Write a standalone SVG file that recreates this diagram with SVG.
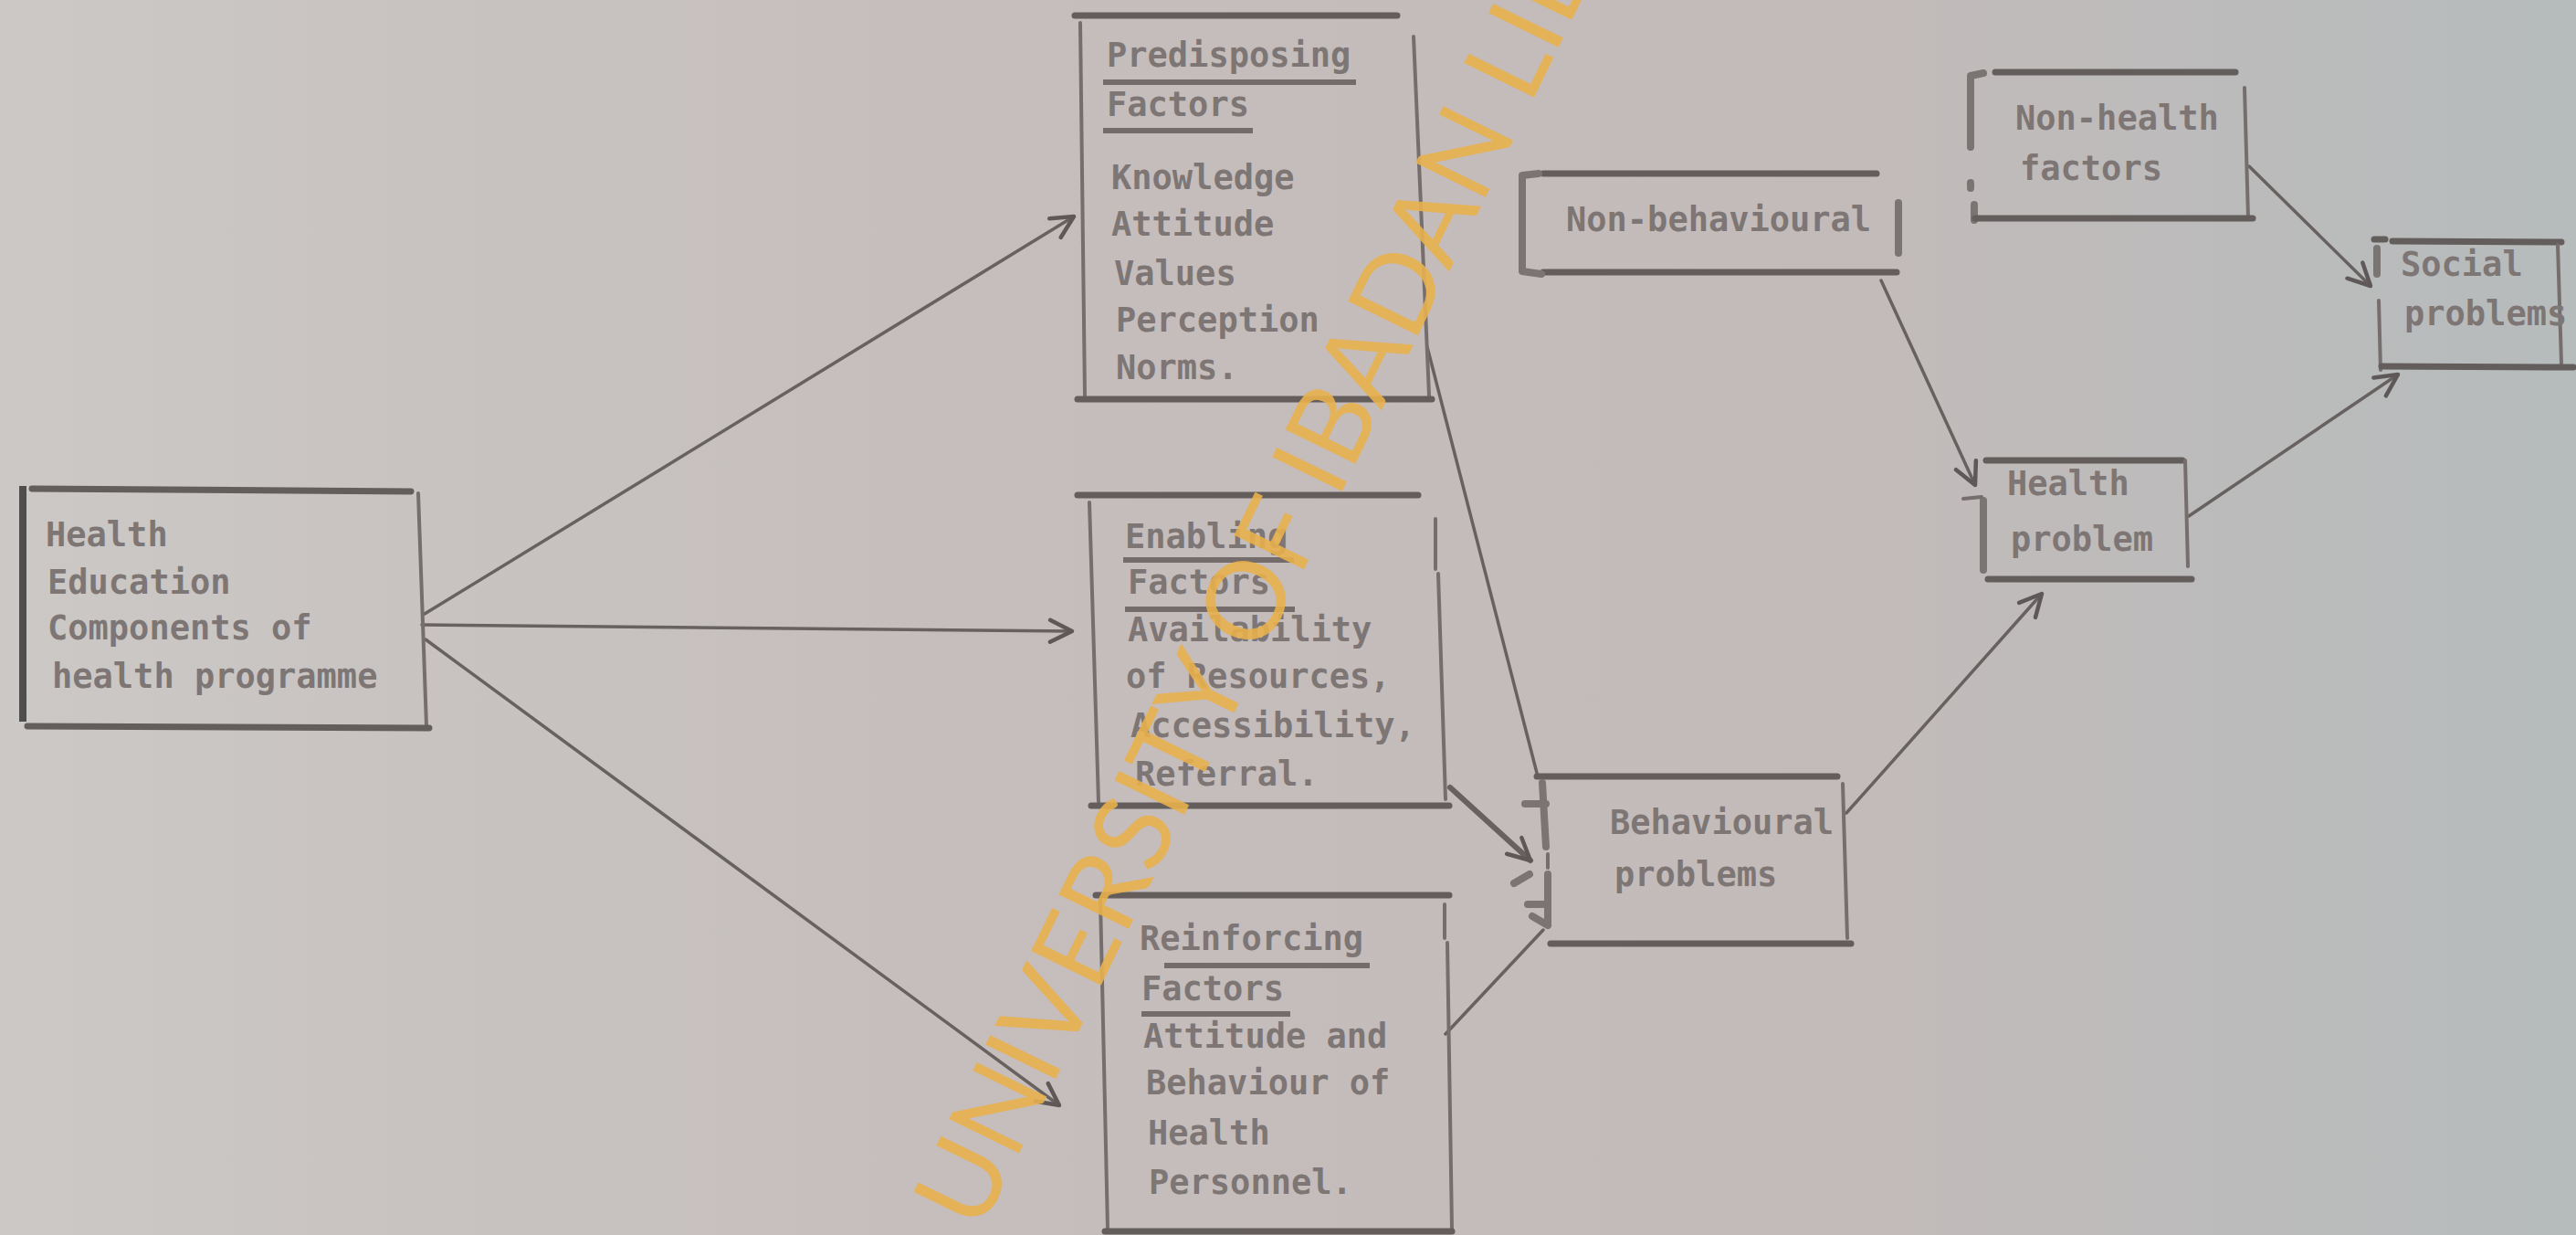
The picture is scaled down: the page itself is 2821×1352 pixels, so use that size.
<svg xmlns="http://www.w3.org/2000/svg" width="2821" height="1352" viewBox="0 0 2821 1352">
<defs>
<linearGradient id="bg" x1="0" y1="0" x2="1" y2="0">
<stop offset="0" stop-color="#cbc8c6"/>
<stop offset="0.35" stop-color="#c5bebd"/>
<stop offset="0.7" stop-color="#c3bbba"/>
<stop offset="1" stop-color="#b6bbbc"/>
</linearGradient>
<marker id="arr" markerUnits="userSpaceOnUse" markerWidth="34" markerHeight="34" refX="30" refY="17" orient="auto">
<path d="M6,5 L30,17 L6,29" fill="none" stroke="#5e5858" stroke-width="4.5" stroke-linecap="round" stroke-linejoin="round"/>
</marker>
<style>
.t{font-family:"DejaVu Sans Mono","Liberation Mono",monospace;font-size:37px;font-weight:bold;fill:#7d7674;}
.thick{stroke:#635d5c;stroke-width:7;fill:none;stroke-linecap:round;}
.thin{stroke:#756e6d;stroke-width:4;fill:none;stroke-linecap:round;}
.ul{stroke:#736c6b;stroke-width:6;fill:none;}
.br{stroke:#7a7472;stroke-width:8;fill:none;stroke-linecap:round;stroke-linejoin:round;}
.c{stroke:#676160;stroke-width:3.5;fill:none;stroke-linecap:round;}
.wm{font-family:Lato,"Open Sans",sans-serif;font-size:119px;fill:#e8b04c;fill-opacity:0.9;}
</style>
</defs>
<rect x="0" y="0" width="2821" height="1352" fill="url(#bg)"/>

<g id="connectors">
<line class="c" x1="465" y1="672" x2="1176" y2="237" marker-end="url(#arr)"/>
<line class="c" x1="462" y1="684" x2="1174" y2="691" marker-end="url(#arr)"/>
<line class="c" x1="466" y1="700" x2="1160" y2="1210" marker-end="url(#arr)"/>
<line class="c" x1="1563" y1="380" x2="1684" y2="850"/>
<line class="c" x1="1588" y1="862" x2="1676" y2="942" style="stroke-width:6" marker-end="url(#arr)"/>
<line class="c" x1="1583" y1="1132" x2="1690" y2="1018"/>
<line class="c" x1="2060" y1="307" x2="2163" y2="531" marker-end="url(#arr)"/>
<line class="c" x1="2022" y1="890" x2="2236" y2="650" marker-end="url(#arr)"/>
<line class="c" x1="2397" y1="565" x2="2626" y2="410" marker-end="url(#arr)"/>
<line class="c" x1="2463" y1="182" x2="2596" y2="313" marker-end="url(#arr)"/>
</g>

<g id="node-health-education">
<line class="thick" x1="35" y1="535" x2="450" y2="538"/>
<line x1="25" y1="532" x2="25" y2="790" stroke="#4f4e4f" stroke-width="8"/>
<line class="thin" x1="458" y1="540" x2="467" y2="795"/>
<line class="thick" x1="30" y1="795" x2="470" y2="797"/>
<text class="t" x="50" y="598">Health</text>
<text class="t" x="52" y="650">Education</text>
<text class="t" x="52" y="700">Components of</text>
<text class="t" x="57" y="753">health programme</text>
</g>

<g id="node-predisposing">
<line class="thick" x1="1177" y1="17" x2="1530" y2="17"/>
<line class="thin" x1="1183" y1="25" x2="1188" y2="433"/>
<line class="thin" x1="1548" y1="40" x2="1565" y2="433"/>
<line class="thick" x1="1180" y1="437" x2="1568" y2="437"/>
<text class="t" x="1212" y="73">Predisposing</text>
<line class="ul" x1="1208" y1="90" x2="1485" y2="90"/>
<text class="t" x="1212" y="127">Factors</text>
<line class="ul" x1="1208" y1="143" x2="1372" y2="143"/>
<text class="t" x="1217" y="207">Knowledge</text>
<text class="t" x="1217" y="258">Attitude</text>
<text class="t" x="1220" y="312">Values</text>
<text class="t" x="1222" y="363">Perception</text>
<text class="t" x="1222" y="415">Norms.</text>
</g>

<g id="node-enabling">
<line class="thick" x1="1180" y1="542" x2="1553" y2="542"/>
<line class="thin" x1="1193" y1="550" x2="1203" y2="878"/>
<line class="thin" x1="1572" y1="568" x2="1572" y2="623"/>
<line class="thin" x1="1575" y1="628" x2="1583" y2="875"/>
<line class="thick" x1="1195" y1="882" x2="1587" y2="882"/>
<text class="t" x="1232" y="600">Enabling</text>
<line class="ul" x1="1230" y1="613" x2="1417" y2="613"/>
<text class="t" x="1235" y="650">Factors</text>
<line class="ul" x1="1232" y1="667" x2="1418" y2="667"/>
<text class="t" x="1235" y="702">Availability</text>
<text class="t" x="1233" y="753">of Resources,</text>
<text class="t" x="1238" y="807">Accessibility,</text>
<text class="t" x="1243" y="860">Referral.</text>
</g>

<g id="node-reinforcing">
<line class="thick" x1="1200" y1="980" x2="1587" y2="980"/>
<line class="thin" x1="1205" y1="985" x2="1213" y2="1345"/>
<line class="thin" x1="1582" y1="990" x2="1582" y2="1027"/>
<line class="thin" x1="1585" y1="1032" x2="1590" y2="1345"/>
<line class="thick" x1="1210" y1="1348" x2="1590" y2="1348"/>
<text class="t" x="1248" y="1040">Reinforcing</text>
<line class="ul" x1="1275" y1="1057" x2="1500" y2="1057"/>
<text class="t" x="1250" y="1095">Factors</text>
<line class="ul" x1="1250" y1="1110" x2="1413" y2="1110"/>
<text class="t" x="1252" y="1147">Attitude and</text>
<text class="t" x="1255" y="1198">Behaviour of</text>
<text class="t" x="1257" y="1253">Health</text>
<text class="t" x="1258" y="1307">Personnel.</text>
</g>

<g id="node-non-behavioural">
<line class="thick" x1="1690" y1="190" x2="2055" y2="190"/>
<line class="thick" x1="1690" y1="298" x2="2077" y2="298"/>
<path class="br" d="M1685,190 L1667,192 L1667,297 L1688,300"/>
<line class="br" x1="2079" y1="222" x2="2079" y2="277"/>
<text class="t" x="1715" y="253">Non-behavioural</text>
</g>

<g id="node-behavioural">
<line class="thick" x1="1683" y1="850" x2="2012" y2="850"/>
<line class="thin" x1="2018" y1="858" x2="2023" y2="1027"/>
<line class="thick" x1="1698" y1="1033" x2="2027" y2="1033"/>
<path class="br" d="M1689,857 L1693,927 M1670,880 L1693,880 M1695,957 L1695,1013 M1673,990 L1695,990 M1678,1003 L1695,1013"/>
<line class="thin" x1="1695" y1="935" x2="1695" y2="950"/>
<line class="br" x1="1658" y1="967" x2="1675" y2="957"/>
<text class="t" x="1763" y="913">Behavioural</text>
<text class="t" x="1768" y="970">problems</text>
</g>

<g id="node-non-health">
<line class="thick" x1="2185" y1="79" x2="2448" y2="79"/>
<path class="br" d="M2172,80 L2158,83 L2158,161 M2158,200 L2158,206 M2162,224 L2162,241"/>
<line class="thin" x1="2458" y1="96" x2="2462" y2="239"/>
<line class="thick" x1="2163" y1="239" x2="2467" y2="239"/>
<text class="t" x="2207" y="142">Non-health</text>
<text class="t" x="2212" y="197">factors</text>
</g>

<g id="node-social">
<line class="thick" x1="2600" y1="262" x2="2612" y2="262"/>
<line class="thick" x1="2620" y1="264" x2="2805" y2="265"/>
<line class="thin" x1="2605" y1="329" x2="2607" y2="405"/>
<line class="br" x1="2603" y1="272" x2="2603" y2="300"/>
<line class="thin" x1="2801" y1="268" x2="2805" y2="398"/>
<line class="thick" x1="2608" y1="401" x2="2818" y2="402"/>
<text class="t" x="2629" y="302">Social</text>
<text class="t" x="2633" y="356">problems</text>
</g>

<g id="node-health-problem">
<line class="thick" x1="2175" y1="504" x2="2390" y2="504"/>
<line class="br" x1="2172" y1="548" x2="2172" y2="624"/>
<line class="thin" x1="2393" y1="504" x2="2396" y2="620"/>
<line class="thick" x1="2177" y1="634" x2="2400" y2="634"/>
<line class="thin" x1="2150" y1="546" x2="2170" y2="544"/>
<text class="t" x="2198" y="542">Health</text>
<text class="t" x="2202" y="603">problem</text>
</g>

<text class="wm" transform="translate(1073,1351) rotate(-64)">UNIVERSITY OF IBADAN LIBRARY</text>
</svg>
